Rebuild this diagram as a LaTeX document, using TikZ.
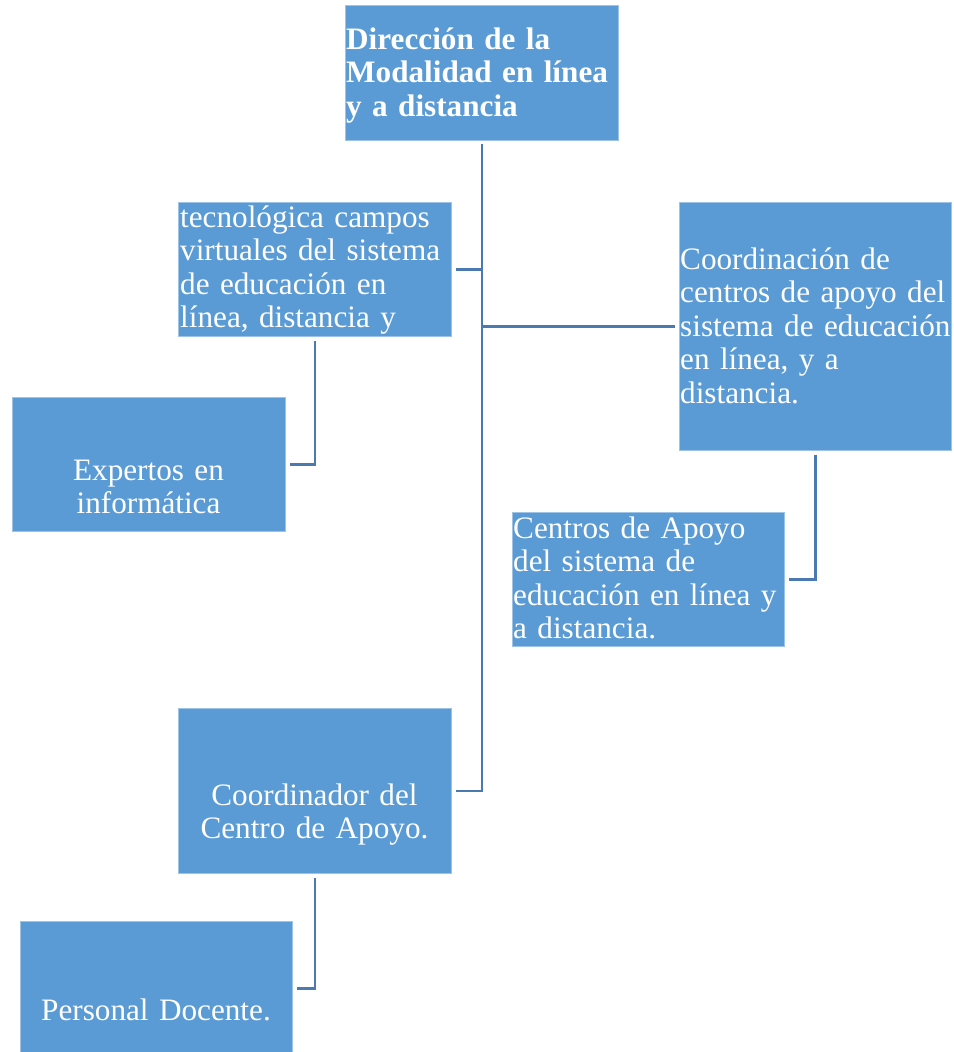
\documentclass[tikz,border=0pt]{standalone}
\usepackage{fontspec}
\setmainfont{Liberation Serif}
\definecolor{boxblue}{HTML}{5B9BD5}
\definecolor{lineblue}{HTML}{4A7AB0}

\begin{document}
\begin{tikzpicture}[x=1pt, y=-1pt,
  box/.style={rectangle, fill=boxblue, draw=boxblue!60!white, line width=0.6pt, inner sep=0pt, anchor=north west},
  txt/.style={text=white, inner sep=0pt, text width=290pt, align=left, anchor=base west, font=\fontsize{31.2}{33.5}\selectfont},
  ctxt/.style={txt, text width=#1, align=center, anchor=base},
  link/.style={draw=lineblue, line width=2.6pt, shorten >=4pt}]
\useasboundingbox (0,0) rectangle (953,1052);
\node (dir) [box, minimum width=273pt, minimum height=135pt] at (345,5) {};
\node (tec) [box, minimum width=273pt, minimum height=134pt] at (178,202) {};
\node (cca) [box, minimum width=272pt, minimum height=248pt] at (679,202) {};
\node (exp) [box, minimum width=273pt, minimum height=134pt] at (12,397) {};
\node (cap) [box, minimum width=272pt, minimum height=134pt] at (512,512) {};
\node (coord) [box, minimum width=273pt, minimum height=165pt] at (178,708) {};
\node (doc) [box, minimum width=272pt, minimum height=134pt] at (20,921) {};

\node (dir-t) [txt, font=\fontsize{31.2}{33.5}\selectfont\bfseries] at (346,49) {Dirección de la\\Modalidad en línea\\y a distancia};
\node (tec-t) [txt] at (180,227) {tecnológica campos\\virtuales del sistema\\de educación en\\línea, distancia y};
\node (cca-t) [txt] at (680,269) {Coordinación de\\centros de apoyo del\\sistema de educación\\en línea, y a\\distancia.};
\node (cap-t) [txt] at (513,538) {Centros de Apoyo\\del sistema de\\educación en línea y\\a distancia.};
\node (exp-t) [ctxt=273pt] at (148.5,480) {Expertos en\\informática};
\node (coord-t) [ctxt=273pt] at (314.5,805) {Coordinador del\\Centro de Apoyo.};
\node (doc-t) [ctxt=272pt] at (156,1020) {Personal Docente.};

\draw [link, shorten <=3pt] (dir.south) |- (coord.east);
\draw [link] (dir.south |- tec.east) -- (tec.east);
\draw [link] (dir.south |- cca.west) -- (cca.west);
\draw [link, shorten <=4pt] (tec.south) |- (exp.east);
\draw [link, shorten <=4pt] (cca.south) |- (cap.east);
\draw [link, shorten <=4pt] (coord.south) |- (doc.east);
\end{tikzpicture}
\end{document}
